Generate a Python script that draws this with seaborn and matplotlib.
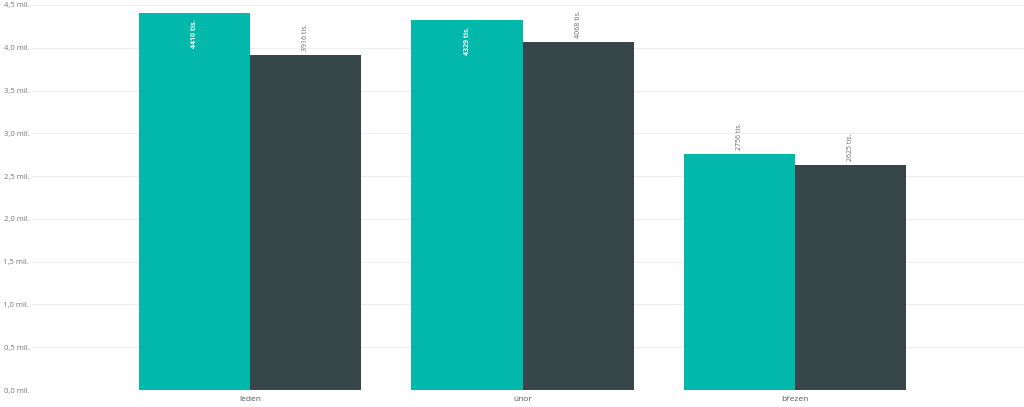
import numpy as np
import pandas as pd
import matplotlib
matplotlib.use("Agg")
import matplotlib.pyplot as plt
import matplotlib.ticker as mticker
import seaborn as sns

# =========================
# DATA
# =========================
MONTHS = ["leden", "únor", "březen"]
SERIES = ["A", "B"]
VALUES_A = [4410, 4329, 2756]   # tis.
VALUES_B = [3916, 4068, 2625]   # tis.
Y_TICKS = [0.0, 0.5, 1.0, 1.5, 2.0, 2.5, 3.0, 3.5, 4.0, 4.5]  # mil.

COLORS = ["#01B8AA", "#374649"]

df = pd.DataFrame({
    "mesic": MONTHS * 2,
    "serie": [SERIES[0]] * 3 + [SERIES[1]] * 3,
    "hodnota": [v * 1000 for v in VALUES_A + VALUES_B],
})

sns.set_style("white")
plt.rcParams["font.family"] = ["Open Sans", "DejaVu Sans"]

fig = plt.figure(figsize=(10.24, 4.07), dpi=100)
ax = fig.add_axes([32 / 1024, 17 / 407, 992 / 1024, 385 / 407])

sns.barplot(data=df, x="mesic", y="hodnota", hue="serie", palette=COLORS,
            order=MONTHS, hue_order=SERIES, width=0.815, gap=0,
            saturation=1, legend=False, ax=ax, zorder=2, linewidth=0,
            edgecolor="none")

ymax = 4.5e6
ax.set_ylim(0, ymax)
ax.set_xlim(-0.8, 2.84)
ax.set_yticks([t * 1e6 for t in Y_TICKS])
ax.yaxis.set_major_formatter(mticker.FuncFormatter(
    lambda v, p: f"{v / 1e6:.1f}".replace(".", ",") + " mil."))
ax.grid(axis="y", color="#efefef", linewidth=0.8, zorder=0)
ax.set_axisbelow(True)
for s in ax.spines.values():
    s.set_visible(False)
ax.set_xlabel("")
ax.set_ylabel("")
ax.tick_params(axis="y", labelsize=5.5, colors="#777777", length=0, pad=2)
ax.tick_params(axis="x", labelsize=6, colors="#555555", length=0, pad=4)

# data labels
label_h = 0.375e6
for bar in ax.patches:
    h = bar.get_height()
    if not np.isfinite(h) or h <= 0:
        continue
    x = bar.get_x() + bar.get_width() / 2
    txt = f"{int(round(h / 1000))} tis."
    if h + label_h > ymax:
        ax.annotate(txt, (x, h), xytext=(0, -5), textcoords="offset points",
                    rotation=90, ha="center", va="top", fontsize=5,
                    color="white", fontweight="bold")
    else:
        ax.annotate(txt, (x, h), xytext=(0, 3), textcoords="offset points",
                    rotation=90, ha="center", va="bottom", fontsize=5,
                    color="#666666")

fig.savefig("out.png", dpi=100)
